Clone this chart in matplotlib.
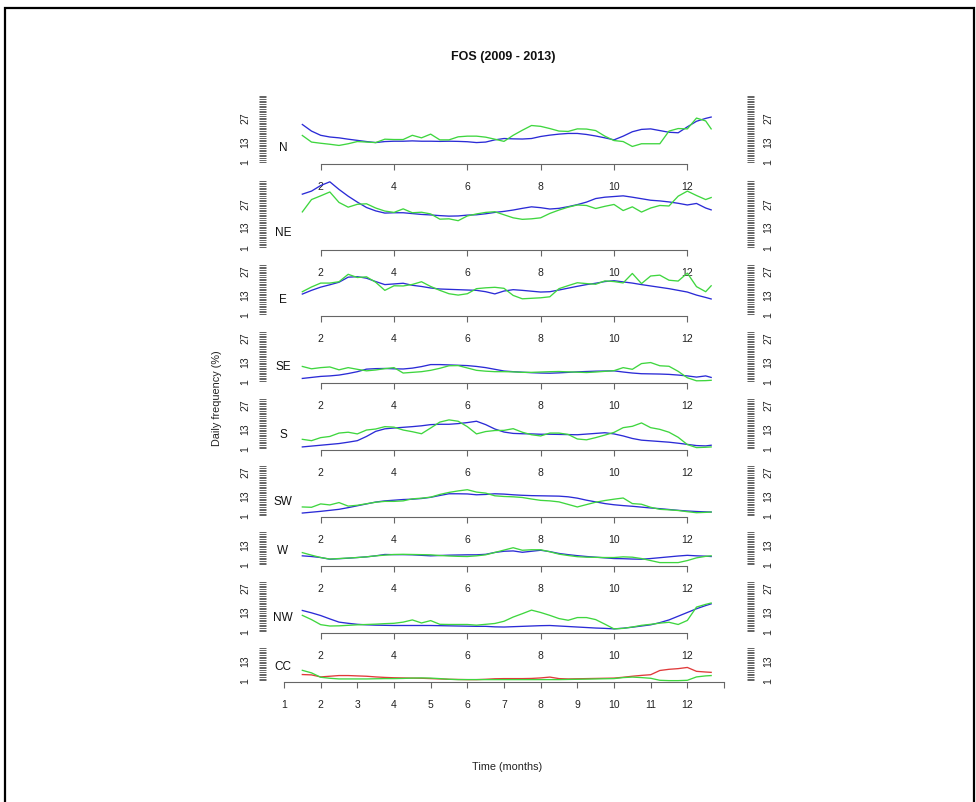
import matplotlib
matplotlib.use("Agg")
import matplotlib.pyplot as plt
from matplotlib.patches import Rectangle

plt.rcParams['font.family'] = ['Liberation Sans', 'DejaVu Sans']

TITLE = "FOS (2009 - 2013)"
YLABEL = "Daily frequency (%)"
XLABEL = "Time (months)"

sectors = ["N", "NE", "E", "SE", "S", "SW", "W", "NW", "CC"]
panel_top = [40, 40, 30, 30, 30, 30, 20, 30, 20]
ytick_labels = [1, 13, 27]
month_labels = [1, 2, 3, 4, 5, 6, 7, 8, 9, 10, 11, 12]

months = [1.5, 1.75, 2.0, 2.25, 2.5, 2.75, 3.0, 3.25, 3.5, 3.75, 4.0, 4.25,
          4.5, 4.75, 5.0, 5.25, 5.5, 5.75, 6.0, 6.25, 6.5, 6.75, 7.0, 7.25,
          7.5, 7.75, 8.0, 8.25, 8.5, 8.75, 9.0, 9.25, 9.5, 9.75, 10.0, 10.25,
          10.5, 10.75, 11.0, 11.25, 11.5, 11.75, 12.0, 12.25, 12.5, 12.65]

# blue series
n_blue = [22.9, 19, 16.5, 15.5, 15, 14.2, 13.5, 12.8, 12.2, 12.8, 13, 13,
          13.2, 13, 13, 12.9, 13, 12.9, 12.7, 12.2, 12.5, 13.8, 14.6, 14.4,
          14.3, 14.6, 15.8, 16.6, 17.2, 17.6, 17.6, 17, 16.1, 15, 13.8, 16,
          18.6, 20, 20.3, 19.3, 18.3, 18, 21.5, 24.8, 26.5, 27.3]
ne_blue = [32.2, 34, 37.3, 39.5, 35, 31, 27.5, 24.3, 22.3, 21, 21.2, 21.2,
           20.7, 20.2, 19.9, 19.5, 19.2, 19.3, 19.8, 20, 20.6, 21.4, 22, 22.8,
           23.8, 24.7, 24.2, 23.4, 23.8, 24.8, 26, 27.5, 29.6, 30.4, 30.8, 31.2,
           30.4, 29.5, 28.6, 28.2, 27.6, 26.8, 25.8, 26.7, 24, 22.9]
e_blue = [12.8, 15, 16.9, 18.3, 19.8, 22.8, 23.1, 22.2, 20.2, 18.4, 18.8, 19.2,
          18, 17.3, 16.4, 15.8, 15.6, 15.4, 15.2, 15, 14.2, 12.9, 14.6, 15.4,
          15, 14.5, 14, 14.2, 15.2, 16.3, 17.4, 18.4, 19.2, 20.2, 20.7, 20,
          19.3, 18.4, 17.6, 16.8, 16, 15, 14, 12.2, 10.8, 9.9]
se_blue = [2.6, 3.2, 3.8, 4.1, 4.6, 5.5, 6.6, 8.1, 8.4, 8.5, 8.3, 8.2,
           8.7, 9.6, 10.8, 10.8, 10.6, 10.4, 10.2, 9.7, 9, 8, 7, 6.6,
           6.3, 6, 5.8, 5.7, 5.9, 6.2, 6.5, 6.7, 6.9, 7, 7.1, 6.4,
           5.8, 5.4, 5.3, 5.2, 5, 4.6, 4.1, 3.4, 4.1, 3.2]
s_blue = [1.8, 2.3, 2.8, 3.3, 3.8, 4.6, 5.5, 8, 11, 12.5, 13, 13.4,
          13.8, 14.3, 15, 15.2, 15.2, 15.6, 16.2, 17, 15, 12.4, 10.6, 9.8,
          9.6, 9.5, 9.3, 9.3, 9.2, 9.1, 9, 9.4, 9.8, 10.2, 9.5, 8.3,
          6.8, 5.8, 5.4, 5, 4.6, 4, 3.3, 2.6, 2.4, 2.8]
sw_blue = [2.4, 2.9, 3.4, 4, 4.6, 5.6, 6.7, 7.8, 8.9, 9.6, 10, 10.4,
           10.6, 11, 11.7, 12.8, 13.8, 13.8, 13.7, 13.2, 13.4, 13.8, 13.6, 13.2,
           12.9, 12.7, 12.6, 12.5, 12.4, 12, 11.2, 10, 9, 8, 7.3, 6.8,
           6.4, 5.9, 5.4, 5, 4.5, 4, 3.6, 3.3, 3.1, 3]
w_blue = [6, 5.6, 5, 4, 4.3, 4.6, 5, 5.4, 6, 6.8, 6.7, 6.7,
          6.6, 6.3, 6, 6.2, 6.4, 6.5, 6.6, 6.6, 6.9, 8, 8.7, 8.9,
          8.1, 8.7, 9.3, 8.5, 7.4, 6.7, 6.1, 5.6, 5.2, 4.8, 4.4, 4.3,
          4.1, 4, 4.4, 4.9, 5.4, 5.9, 6.3, 6, 5.8, 5.6]
nw_blue = [13.4, 12, 10.4, 8.4, 6.5, 5.8, 5.2, 4.9, 4.7, 4.6, 4.5, 4.5,
           4.5, 4.5, 4.5, 4.4, 4.3, 4.2, 4.1, 4, 4, 3.7, 3.6, 3.8,
           4, 4.2, 4.4, 4.5, 4.2, 3.9, 3.6, 3.3, 3, 2.8, 2.5, 2.9,
           3.5, 4.2, 4.9, 6.2, 7.8, 10, 12.2, 14.4, 16.3, 17.3]
cc_red = [4.4, 4.2, 3, 3.4, 3.8, 3.8, 3.6, 3.4, 3, 2.7, 2.5, 2.4,
          2.3, 2.2, 2, 1.8, 1.6, 1.5, 1.4, 1.4, 1.6, 1.9, 2, 2,
          2, 2.1, 2.4, 2.9, 2, 1.8, 1.9, 2, 2.1, 2.2, 2.3, 2.8,
          3.4, 3.9, 4.3, 6.8, 7.5, 7.9, 8.6, 6.3, 5.9, 5.7]

# green series
n_green = [16.4, 12.5, 11.8, 11.2, 10.5, 11.5, 12.8, 12.5, 12.2, 14.2, 14, 14,
           16.5, 15, 17.2, 13.8, 13.8, 15.6, 16, 16, 15.4, 14.2, 12.9, 16.5,
           19.5, 22.3, 21.8, 20.5, 19, 18.8, 20.3, 20.2, 19.3, 16, 13.4, 12.8,
           9.9, 11.5, 11.5, 11.5, 19, 20.5, 20.3, 26.7, 25, 20.3]
ne_green = [21.7, 29, 31.2, 33.5, 27.3, 24.5, 26.2, 26.5, 24, 22.2, 21.4, 23.5,
            21.2, 21.5, 20.5, 17.4, 17.6, 16.5, 19.3, 20.5, 21.4, 21.8, 20, 18.2,
            17.3, 17.6, 18.2, 20.8, 22.8, 24.5, 25.8, 25.5, 23.7, 25, 26.1, 22.5,
            24.7, 21.6, 24, 25.5, 25.2, 31, 34, 31.4, 29, 30.2]
e_green = [14.2, 17, 19.3, 19.3, 20.1, 24.5, 22.6, 23, 19.8, 15, 17.7, 17.6,
           18.5, 20.1, 17.3, 15, 13, 12.2, 13, 16, 16.5, 16.8, 16.2, 12,
           10, 10.3, 10.6, 11.2, 16, 17.8, 19.5, 19, 18.6, 20.6, 20.2, 19.4,
           25, 19, 23.5, 24, 21, 20.5, 25.2, 17.2, 14.2, 17.7]
se_green = [9.7, 8.3, 9, 9.4, 7.7, 9, 8, 7.1, 7.6, 8.4, 9, 5.8,
            6.2, 6.6, 7.4, 8.6, 10.1, 10.2, 8.8, 7.4, 6.9, 6.6, 6.6, 6.5,
            6.2, 6.2, 6.4, 6.6, 6.7, 6.5, 6.3, 6.1, 6.4, 6.8, 7.2, 9,
            8, 11.4, 12, 10.1, 9.8, 6.8, 3, 1.2, 1.3, 1.5]
s_green = [6.3, 5.5, 7.3, 8, 10, 10.5, 9.5, 11.8, 12.4, 13.8, 13.5, 11.8,
           10.8, 9.6, 13, 16.5, 17.8, 17, 13.8, 9.5, 10.9, 11.5, 11.6, 12.6,
           10.5, 9, 8.3, 10, 10, 9.2, 6.5, 6, 7.3, 8.8, 10.4, 13.2,
           14, 16, 13.2, 12.2, 10.5, 7.5, 3.2, 1.4, 1.6, 1.8]
sw_green = [6, 5.8, 7.8, 7.2, 8.6, 6.5, 7, 7.9, 8.8, 9.3, 9.3, 9.6,
            10.8, 11.2, 11.8, 13.4, 14.6, 15.5, 16.2, 14.8, 14.2, 12.6, 12.2, 12,
            11.6, 10.7, 9.9, 9.6, 9, 7.5, 6, 7.4, 8.8, 9.8, 10.6, 11.3,
            8, 7.6, 5.8, 4.6, 4.3, 3.9, 3.2, 2.6, 2.8, 3]
w_green = [7.9, 6.4, 5, 4.1, 4.4, 4.7, 5, 5.4, 6, 6.4, 6.8, 6.9,
           6.8, 6.7, 6.6, 6.2, 5.9, 5.7, 5.6, 6, 6.6, 8, 9.4, 10.8,
           9.3, 9.6, 9.6, 8.4, 7, 6.2, 5.5, 5.2, 5.1, 5, 5, 5.4,
           5.2, 4.4, 3.2, 2, 2, 2, 3.2, 4.8, 5.7, 6]
nw_green = [10.5, 8, 5, 4.2, 4.3, 4.6, 4.9, 5.1, 5.3, 5.6, 5.8, 6.5,
            7.8, 6, 7.4, 5.2, 5.1, 5.1, 5.1, 4.7, 5.2, 5.7, 7, 9.5,
            11.5, 13.6, 12.2, 10.5, 8.6, 7.6, 9.2, 9.2, 8, 5.3, 2.5, 2.8,
            3.6, 4.6, 5.2, 5.9, 6.4, 5.1, 7.5, 15.4, 17, 17.8]
cc_green = [6.9, 5.4, 2.8, 2.2, 1.8, 1.8, 1.8, 1.8, 1.9, 2, 2, 2.1,
            2.3, 2.4, 2.3, 2, 1.6, 1.4, 1.4, 1.4, 1.4, 1.4, 1.4, 1.4,
            1.4, 1.4, 1.4, 1.4, 1.4, 1.5, 1.6, 1.7, 1.8, 1.9, 2, 2.6,
            2.9, 2.6, 2.2, 1, 0.8, 0.8, 1, 3, 3.6, 3.8]

first_series = [n_blue, ne_blue, e_blue, se_blue, s_blue, sw_blue, w_blue, nw_blue, cc_red]
second_series = [n_green, ne_green, e_green, se_green, s_green, sw_green, w_green, nw_green, cc_green]
first_colors = ["#2b2bd6"] * 8 + ["#e03a3a"]
GREEN = "#3fd63f"

W, H = 976, 803
fig = plt.figure(figsize=(W / 100, H / 100), dpi=100)

# frame round the whole picture
fig.patches.append(Rectangle((5 / W, -0.02), 968.5 / W, 1.02 - 9 / H, transform=fig.transFigure,
                             fill=False, ec="black", lw=1.6))

line_col = "#666666"
px_unit = 1.69
gap = 14.2
left_px, right_px = 266.4, 741.6
y1 = 162.5

for i, sec in enumerate(sectors):
    ymax = panel_top[i]
    rng = ymax - 1
    if i > 0:
        y1 += gap + 1.08 * rng * px_unit
    bottom_px = y1 + 0.04 * rng * px_unit
    ax = fig.add_axes([left_px / W, 1 - bottom_px / H,
                       (right_px - left_px) / W, 1.08 * rng * px_unit / H])
    ax.set_facecolor("none")
    ax.set_xlim(0.52, 13.48)
    ax.set_ylim(1 - 0.04 * rng, ymax + 0.04 * rng)

    ax.plot(months, first_series[i], color=first_colors[i], lw=0.95)
    ax.plot(months, second_series[i], color=GREEN, lw=0.95)

    ax.text(0.97, 9.7, sec, ha="center", va="center", fontsize=8.5, color="#111111")

    for s in ["left", "top", "right"]:
        ax.spines[s].set_visible(False)
    ax.spines["right"].set_position(("outward", 3.6))
    ax.spines["bottom"].set_color(line_col)
    ax.spines["bottom"].set_linewidth(0.8)

    yt = list(range(1, ymax + 1))
    ax.set_yticks(yt)
    ax.set_yticklabels([str(v) if v in ytick_labels else "" for v in yt])
    ax.tick_params(axis="y", left=True, right=True, labelleft=True, labelright=True,
                   length=5.3, width=0.6, color="#4a4a4a", direction="out",
                   labelsize=7.5, labelcolor="#222222", pad=6.5, labelrotation=90)
    for lab in ax.get_yticklabels(which="both"):
        lab.set_verticalalignment("center")

    if i < len(sectors) - 1:
        xt = [2, 4, 6, 8, 10, 12]
        ax.spines["bottom"].set_bounds(2, 12)
        ax.set_xticks(xt)
        ax.set_xticklabels([str(v) for v in xt])
    else:
        xt = month_labels + [13]
        ax.spines["bottom"].set_bounds(1, 13)
        ax.set_xticks(xt)
        ax.set_xticklabels([str(v) for v in month_labels] + [""])
    ax.tick_params(axis="x", length=4.3, width=0.8, color=line_col, direction="out",
                   labelsize=7.5, labelcolor="#222222", pad=8)

fig.text(503 / W, 1 - 57 / H, TITLE, ha="center", va="center", fontsize=9,
         fontweight="bold", color="#111111")
fig.text(216.5 / W, 1 - 398 / H, YLABEL, ha="center", va="center", rotation=90,
         fontsize=7.8, color="#222222")
fig.text(507 / W, 1 - 767 / H, XLABEL, ha="center", va="center", fontsize=7.8,
         color="#222222")

fig.savefig("out.png", dpi=100)
